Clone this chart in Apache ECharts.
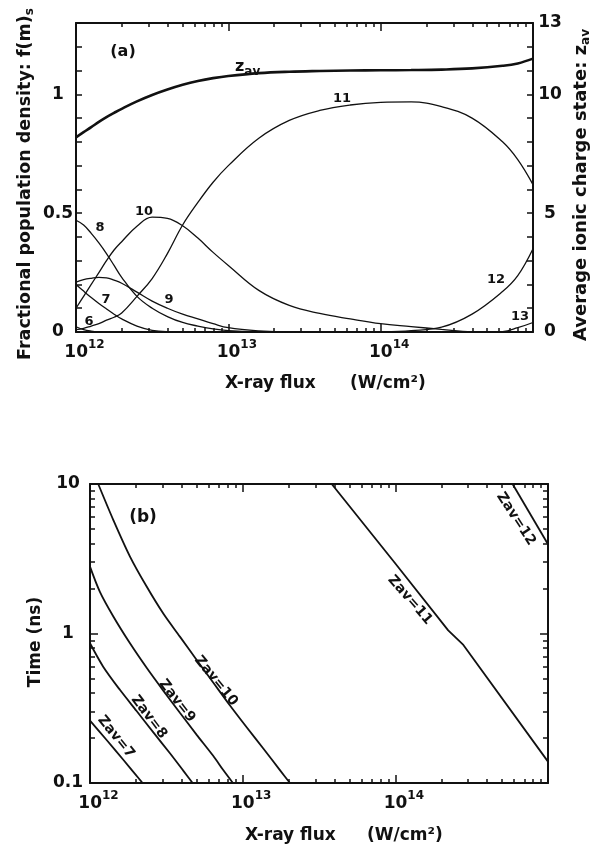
<!DOCTYPE html>
<html>
<head>
<meta charset="utf-8">
<script src="https://cdn.jsdelivr.net/npm/echarts@6.0.0/dist/echarts.min.js"></script>
<style>html,body{margin:0;padding:0;background:#fff;}#chart{width:599px;height:847px;}</style>
</head>
<body>
<div id="chart"></div>
<script>
// ---------- Panel (a): fractional populations vs X-ray flux ----------
const fluxA = [1e12, 1.122e12, 1.259e12, 1.413e12, 1.585e12, 1.778e12, 1.995e12, 2.512e12, 3.162e12, 3.981e12,
  5.012e12, 6.31e12, 7.943e12, 1e13, 1.585e13, 2.512e13, 3.981e13, 6.31e13, 1e14, 1.585e14, 2.512e14, 3.981e14,
  6.31e14, 7.943e14, 1e15];
const f6  = [0.022, 0.010, 0.004, 0.001, 0, 0, 0, 0, 0, 0, 0, 0, 0, 0, 0, 0, 0, 0, 0, 0, 0, 0, 0, 0, 0];
const f7  = [0.20, 0.172, 0.145, 0.12, 0.097, 0.075, 0.055, 0.025, 0.007, 0.001, 0, 0, 0, 0, 0, 0, 0, 0, 0, 0, 0, 0, 0, 0, 0];
const f8  = [0.47, 0.45, 0.415, 0.375, 0.33, 0.28, 0.23, 0.15, 0.10, 0.065, 0.04, 0.025, 0.013, 0.006, 0.001, 0, 0, 0, 0, 0, 0, 0, 0, 0, 0];
const f9  = [0.21, 0.22, 0.226, 0.23, 0.228, 0.218, 0.205, 0.168, 0.13, 0.10, 0.075, 0.055, 0.035, 0.018, 0.005, 0.001, 0, 0, 0, 0, 0, 0, 0, 0, 0];
const f10 = [0.10, 0.15, 0.20, 0.25, 0.30, 0.345, 0.38, 0.445, 0.483, 0.478, 0.447, 0.395, 0.335, 0.28, 0.175, 0.112, 0.078, 0.055, 0.035, 0.023, 0.011, 0.001, 0, 0, 0];
const f11 = [0.01, 0.015, 0.025, 0.035, 0.05, 0.062, 0.08, 0.15, 0.225, 0.33, 0.45, 0.545, 0.63, 0.70, 0.815, 0.89, 0.932, 0.955, 0.966, 0.968, 0.948, 0.9, 0.8, 0.725, 0.62];
const f12 = [0, 0, 0, 0, 0, 0, 0, 0, 0, 0, 0, 0, 0, 0, 0, 0, 0, 0, 0.001, 0.006, 0.02, 0.075, 0.17, 0.237, 0.35];
const f13 = [0, 0, 0, 0, 0, 0, 0, 0, 0, 0, 0, 0, 0, 0, 0, 0, 0, 0, 0, 0, 0, 0, 0.002, 0.018, 0.04];
const zavA = [8.19, 8.41, 8.62, 8.84, 9.04, 9.22, 9.39, 9.7, 9.97, 10.2, 10.4, 10.56, 10.68, 10.77, 10.89, 10.95, 10.98, 11.0, 11.01, 11.02, 11.04, 11.09, 11.2, 11.3, 11.5];

// ---------- Panel (b): time to reach Zav vs X-ray flux ----------
const z7Flux  = [1e12, 1.285e12, 1.652e12, 2.21e12];
const z7Time  = [0.261, 0.194, 0.143, 0.1];
const z8Flux  = [1e12, 1.22e12, 1.57e12, 2.02e12, 2.6e12, 3.34e12, 4.08e12, 4.7e12];
const z8Time  = [0.86, 0.6, 0.42, 0.303, 0.218, 0.158, 0.121, 0.1];
const z9Flux  = [1e12, 1.161e12, 1.422e12, 1.828e12, 2.35e12, 3.02e12, 3.88e12, 5.0e12, 6.41e12, 7.46e12, 8.63e12];
const z9Time  = [2.8, 1.9, 1.3, 0.86, 0.59, 0.415, 0.295, 0.21, 0.152, 0.122, 0.1];
const z10Flux = [1.132e12, 1.422e12, 1.828e12, 2.35e12, 3.02e12, 3.88e12, 5.0e12, 6.41e12, 8.26e12, 1.062e13, 1.365e13, 1.754e13, 2.04e13];
const z10Time = [10, 5.74, 3.27, 2.06, 1.36, 0.953, 0.665, 0.47, 0.33, 0.236, 0.17, 0.122, 0.1];
const z11Flux = [3.83e13, 1e14, 2.22e14, 2.79e14, 1e15];
const z11Time = [10, 2.94, 1.05, 0.838, 0.139];
const z12Flux = [5.86e14, 1e15];
const z12Time = [10, 3.95];

// ---------- Tick values / labels ----------
const fluxTicks = [1e12, 1e13, 1e14, 1e15];
const fracTickLabels = [0, 0.5, 1];
const zavTickLabels = [0, 5, 10, 13];
const timeTicks = [0.1, 1, 10];

const FONT = 'DejaVu Sans';
const INK = '#111';

function minorLog(minExp, maxExp) {
  const out = [];
  for (let e = minExp; e < maxExp; e++) for (let m = 2; m <= 9; m++) out.push(+(m * Math.pow(10, e)).toPrecision(6));
  return out;
}
const fluxMinor = minorLog(12, 15);
const timeMinor = minorLog(-1, 1);

const supRich = {
  b: {fontSize: 17, fontWeight: 'bold', fontFamily: FONT, color: INK, padding: [0, 0, 0, 17], lineHeight: 22, verticalAlign: 'bottom'},
  s: {fontSize: 12, fontWeight: 'bold', fontFamily: FONT, color: INK, lineHeight: 12, verticalAlign: 'top'}
};

// kind: 'line' (axis line + major ticks), 'minor' (minor ticks), 'label' (labels only)
function xAxisDef(grid, pos, kind) {
  return {
    type: 'log', logBase: 10, gridIndex: grid, position: pos, min: 1e12, max: 1e15,
    axisLine: {show: kind === 'line', onZero: false, lineStyle: {color: INK, width: 2}},
    axisTick: {show: kind !== 'label', inside: true, length: kind === 'line' ? 8 : 4,
      customValues: kind === 'line' ? fluxTicks : fluxMinor,
      lineStyle: {color: INK, width: 1.5}},
    axisLabel: kind === 'label' ? {show: true, customValues: fluxTicks, margin: 7,
      formatter: v => '{b|10}{s|' + Math.round(Math.log10(v)) + '}', rich: supRich} : {show: false},
    splitLine: {show: false}
  };
}
function timeAxisDef(pos, kind) {
  return {
    type: 'log', logBase: 10, gridIndex: 1, position: pos, min: 0.1, max: 10,
    axisLine: {show: kind === 'line', onZero: false, lineStyle: {color: INK, width: 2}},
    axisTick: {show: kind !== 'label', inside: true, length: kind === 'line' ? 8 : 5,
      customValues: kind === 'line' ? timeTicks : timeMinor, lineStyle: {color: INK, width: 1.5}},
    axisLabel: kind === 'label' ? {show: true, customValues: timeTicks, align: 'center', margin: 22,
      fontSize: 17, fontWeight: 'bold', fontFamily: FONT, color: INK,
      formatter: v => (v < 1 ? '0.1' : String(Math.round(v)))} : {show: false},
    splitLine: {show: false}
  };
}

const xAxes = [
  xAxisDef(0, 'bottom', 'line'), xAxisDef(0, 'bottom', 'minor'), xAxisDef(0, 'bottom', 'label'),
  xAxisDef(0, 'top', 'line'), xAxisDef(0, 'top', 'minor'),
  xAxisDef(1, 'bottom', 'line'), xAxisDef(1, 'bottom', 'minor'), xAxisDef(1, 'bottom', 'label'),
  xAxisDef(1, 'top', 'line'), xAxisDef(1, 'top', 'minor')
];
const yAxes = [
  {type: 'value', gridIndex: 0, position: 'left', min: 0, max: 1.3, interval: 0.1,
    axisLine: {show: true, onZero: false, lineStyle: {color: INK, width: 2}},
    axisTick: {show: true, inside: true, length: 6, lineStyle: {color: INK, width: 1.5}},
    axisLabel: {show: true, customValues: fracTickLabels, align: 'center', margin: 18,
      fontSize: 17, fontWeight: 'bold', fontFamily: FONT, color: INK, formatter: v => String(v)},
    splitLine: {show: false}},
  {type: 'value', gridIndex: 0, position: 'right', min: 0, max: 13, interval: 1,
    axisLine: {show: true, onZero: false, lineStyle: {color: INK, width: 2}},
    axisTick: {show: true, inside: true, length: 6, lineStyle: {color: INK, width: 1.5}},
    axisLabel: {show: true, customValues: zavTickLabels, align: 'center', margin: 17,
      fontSize: 17, fontWeight: 'bold', fontFamily: FONT, color: INK, formatter: v => String(v)},
    splitLine: {show: false}},
  timeAxisDef('left', 'line'), timeAxisDef('left', 'minor'), timeAxisDef('left', 'label'),
  timeAxisDef('right', 'line'), timeAxisDef('right', 'minor')
];

function pair(xs, ys) { return xs.map((x, i) => [x, ys[i]]); }
function fLine(ys) {
  return {type: 'line', xAxisIndex: 0, yAxisIndex: 0, data: pair(fluxA, ys), showSymbol: false, symbol: 'none',
    smooth: 0.4, lineStyle: {color: INK, width: 1.3}, silent: true};
}
function tLine(xs, ys, smooth) {
  return {type: 'line', xAxisIndex: 5, yAxisIndex: 2, data: pair(xs, ys), showSymbol: false, symbol: 'none',
    smooth: smooth, lineStyle: {color: INK, width: 1.8}, silent: true};
}

const series = [
  fLine(f6), fLine(f7), fLine(f8), fLine(f9), fLine(f10), fLine(f11), fLine(f12), fLine(f13),
  {type: 'line', xAxisIndex: 0, yAxisIndex: 1, data: pair(fluxA, zavA), showSymbol: false, symbol: 'none',
    smooth: 0.4, lineStyle: {color: INK, width: 2.6}, silent: true},
  tLine(z7Flux, z7Time, 0.3), tLine(z8Flux, z8Time, 0.3), tLine(z9Flux, z9Time, 0.3),
  tLine(z10Flux, z10Time, 0.3), tLine(z11Flux, z11Time, false), tLine(z12Flux, z12Time, false)
];

function label(x, y, text, size, rotDeg, rich, align) {
  return {type: 'text', x: x, y: y, rotation: (rotDeg || 0) * Math.PI / 180, silent: true,
    style: {text: text, fontSize: size, fontWeight: 'bold', fontFamily: FONT, fill: INK,
      align: align || 'center', verticalAlign: 'middle', rich: rich}};
}
const subRich = (big, small) => ({
  t: {fontSize: big, fontWeight: 'bold', fontFamily: FONT, fill: INK, lineHeight: 20, verticalAlign: 'middle'},
  s: {fontSize: small, fontWeight: 'bold', fontFamily: FONT, fill: INK, lineHeight: small, padding: [9, 0, 0, 0], verticalAlign: 'middle'}
});

const graphics = [
  label(123, 52, '(a)', 16),
  {type: 'text', x: 235, y: 67, silent: true,
    style: {text: '{t|z}{s|av}', align: 'left', verticalAlign: 'middle', rich: subRich(16, 12)}},
  label(342, 99, '11', 13), label(144, 212, '10', 13), label(100, 228, '8', 13),
  label(106, 300, '7', 13), label(169, 300, '9', 13), label(89, 322, '6', 13),
  label(496, 280, '12', 13), label(520, 317, '13', 13),
  label(25, 184, '{t|Fractional population density: f(m)}{s|s}', 17.5, 90, subRich(17.5, 12)),
  label(581, 185, '{t|Average ionic charge state: z}{s|av}', 18, 90, subRich(18, 12)),
  label(225, 384, 'X-ray flux', 17, 0, null, 'left'),
  label(350, 384, '(W/cm²)', 17, 0, null, 'left'),
  label(143, 518, '(b)', 17),
  label(216, 681, 'Zav=10', 14, -51), label(177, 701, 'Zav=9', 14, -52),
  label(149, 717, 'Zav=8', 14, -53), label(116, 737, 'Zav=7', 14, -51),
  label(410, 600, 'Zav=11', 14, -49), label(516, 519, 'Zav=12', 14, -57),
  label(36, 642, 'Time (ns)', 17, 90),
  label(245, 836, 'X-ray flux', 17, 0, null, 'left'),
  label(367, 836, '(W/cm²)', 17, 0, null, 'left')
];

const chart = echarts.init(document.getElementById('chart'), null, {renderer: 'canvas', width: 599, height: 847});
chart.setOption({
  animation: false,
  backgroundColor: '#fff',
  grid: [
    {left: 76, top: 23, width: 457, height: 309, containLabel: false},
    {left: 90, top: 484, width: 458, height: 299, containLabel: false}
  ],
  xAxis: xAxes,
  yAxis: yAxes,
  series: series,
  graphic: graphics
});
</script>
</body>
</html>
